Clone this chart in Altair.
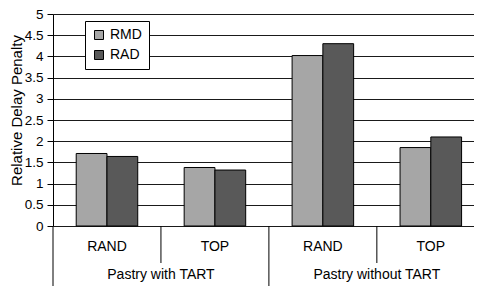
import altair as alt
import pandas as pd

# ---- data ----
groups = ["Pastry with TART", "Pastry with TART", "Pastry without TART", "Pastry without TART"]
methods = ["RAND", "TOP", "RAND", "TOP"]
rmd = [1.71, 1.38, 4.02, 1.85]
rad = [1.64, 1.32, 4.30, 2.10]
series = ["RMD", "RAD"]
series_colors = ["#a6a6a6", "#595959"]
y_ticks = [0, 0.5, 1, 1.5, 2, 2.5, 3, 3.5, 4, 4.5, 5]

FONT = "Liberation Sans"
BAR_W = 0.285

rows = []
for i, (g, m) in enumerate(zip(groups, methods)):
    for s, vals in zip(series, [rmd, rad]):
        off = -BAR_W if s == "RMD" else 0.0
        rows.append({"group": g, "method": m, "series": s, "value": vals[i],
                     "x0": i + 0.5 + off, "x1": i + 0.5 + off + BAR_W})
bars_df = pd.DataFrame(rows)

method_df = pd.DataFrame({"label": methods, "x": [i + 0.5 for i in range(len(methods))]})
group_names = ["Pastry with TART", "Pastry without TART"]
group_df = pd.DataFrame({"label": group_names, "x": [1.0, 3.0]})
short_sep = pd.DataFrame({"x": [1.0, 3.0]})
long_sep = pd.DataFrame({"x": [0.0, 2.0]})

xscale = alt.Scale(domain=[0, 3.9], nice=False, zero=False)
yscale = alt.Scale(domain=[0, 5], nice=False)

bars = alt.Chart(bars_df).mark_bar(stroke="black", strokeWidth=1).encode(
    x=alt.X("x0:Q", scale=xscale, axis=None),
    x2="x1:Q",
    y=alt.Y("value:Q", scale=yscale,
            axis=alt.Axis(values=y_ticks, format="~g", title="Relative Delay Penalty",
                          grid=True, gridColor="#1a1a1a", gridWidth=1,
                          domainColor="black", tickColor="black", tickSize=6,
                          labelPadding=4, labelFontSize=13.5, labelColor="black", labelFont=FONT,
                          titleFontSize=15, titleFontWeight="normal", titleFont=FONT,
                          titleColor="black", titleX=-37, titleY=96, titleAngle=270,
                          titleAlign="center", titleBaseline="middle")),
    y2=alt.datum(0),
    color=alt.Color("series:N", scale=alt.Scale(domain=series, range=series_colors),
                    legend=alt.Legend(title=None, orient="none", legendX=32, legendY=7,
                                      direction="vertical", fillColor="white",
                                      strokeColor="black", padding=7,
                                      symbolType="square", symbolSize=81,
                                      symbolStrokeColor="black", symbolStrokeWidth=1,
                                      symbolOpacity=1, labelFontSize=14, labelFont=FONT,
                                      labelColor="black", rowPadding=6, labelOffset=4)),
)

sep_short = alt.Chart(short_sep).mark_rule(color="black", strokeWidth=1).encode(
    x=alt.X("x:Q", scale=xscale), y=alt.value(212), y2=alt.value(249))
sep_long = alt.Chart(long_sep).mark_rule(color="black", strokeWidth=1).encode(
    x=alt.X("x:Q", scale=xscale), y=alt.value(212), y2=alt.value(285))

method_text = alt.Chart(method_df).mark_text(fontSize=14, font=FONT, color="black",
                                             baseline="middle").encode(
    x=alt.X("x:Q", scale=xscale), y=alt.value(233), text="label:N")
group_text = alt.Chart(group_df).mark_text(fontSize=14, font=FONT, color="black",
                                           baseline="middle").encode(
    x=alt.X("x:Q", scale=xscale), y=alt.value(261), text="label:N")

chart = alt.layer(bars, sep_short, sep_long, method_text, group_text).properties(
    width=421, height=212,
    autosize=alt.AutoSizeParams(type="none"),
    padding={"left": 45, "top": 6, "right": 0, "bottom": 60},
).configure_view(stroke=None).configure(background="white")

chart.save("out.html", embed_options={"renderer": "svg", "actions": False})
